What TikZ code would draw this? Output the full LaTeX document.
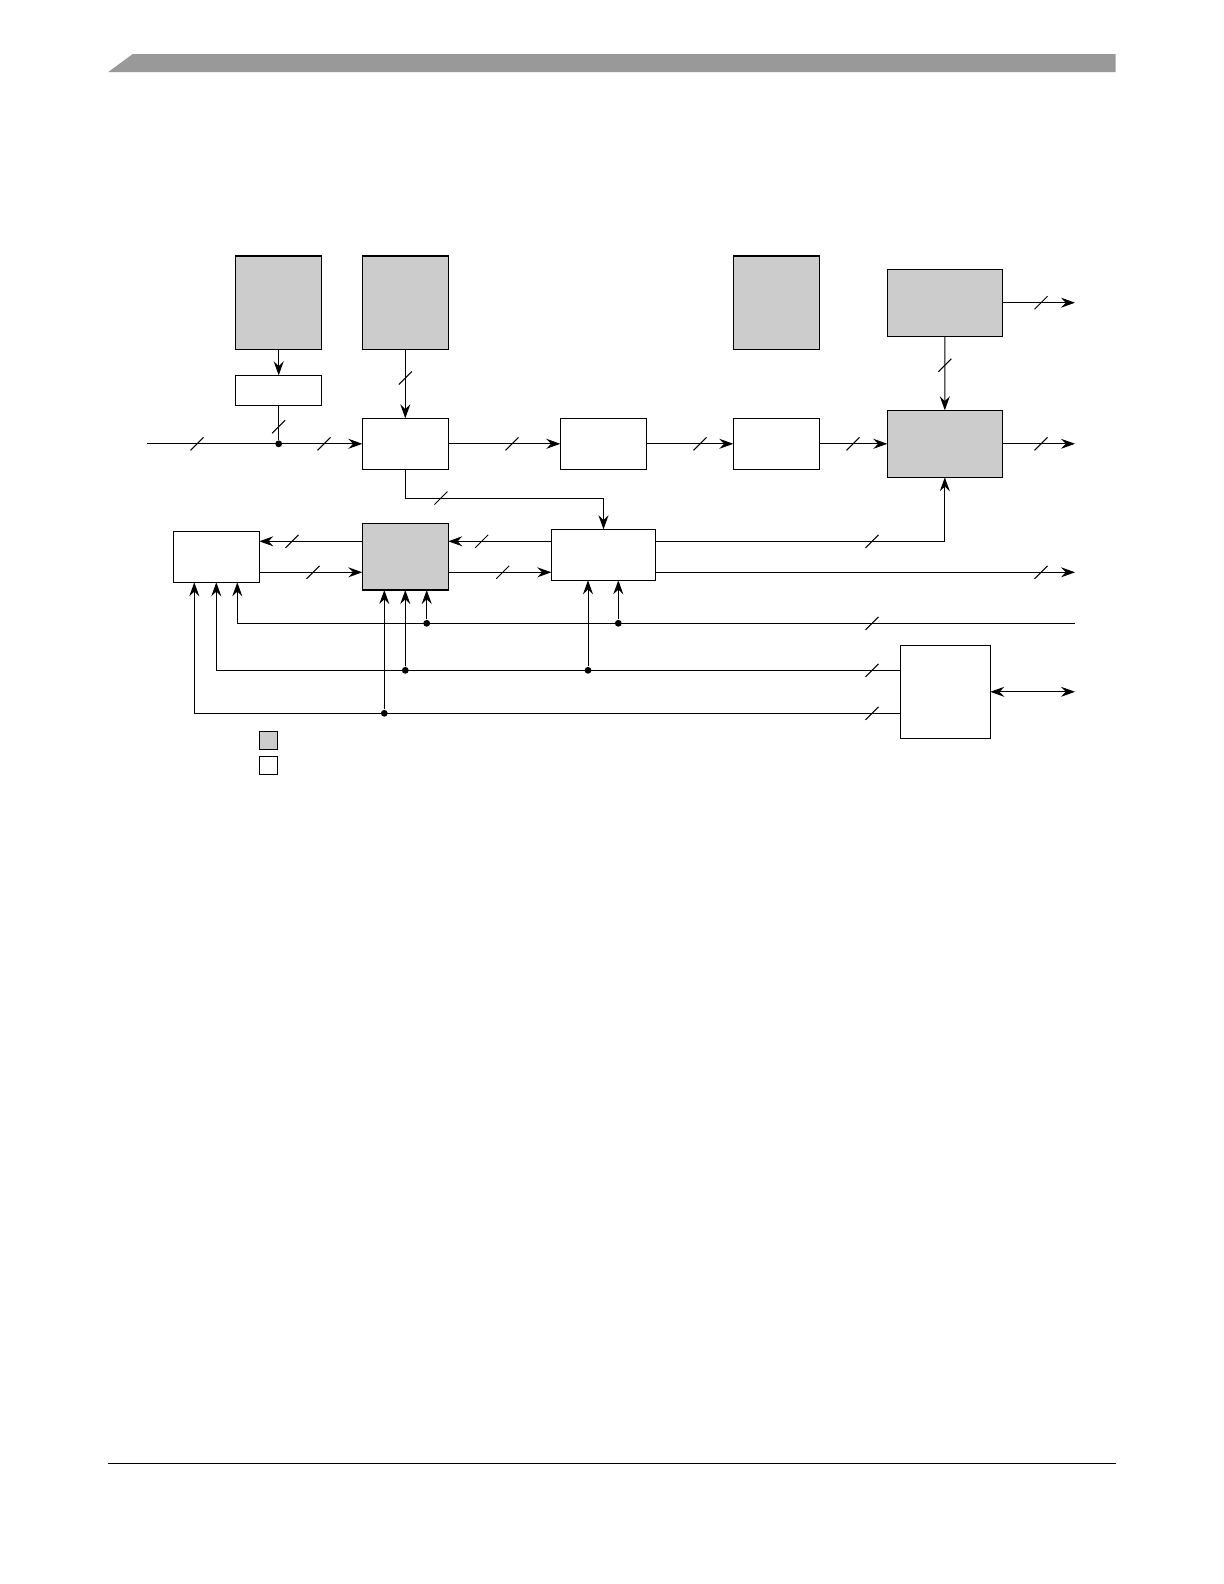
\documentclass[tikz,border=0pt]{standalone}
\usetikzlibrary{arrows.meta,calc}
\definecolor{blockgray}{HTML}{CCCCCC}
\definecolor{bandgray}{HTML}{999999}

\begin{document}
\begin{tikzpicture}[x=0.5bp,y=-0.5bp,>={Stealth[length=7bp,width=5bp,inset=2.4bp]},
wh/.style 2 args={minimum width=#1*0.5bp,minimum height=#2*0.5bp},
blk/.style={draw,line width=0.7bp,inner sep=0,outer sep=0},
hw/.style={blk,fill=blockgray},
sw/.style={blk,fill=white},
jn/.style={circle,fill,inner sep=0,minimum size=3.4bp},
busmark/.pic={\draw[line width=0.5bp] (-6.5,6.5) -- (6.5,-6.5);},
every path/.style={line width=0.5bp}]
\useasboundingbox (0,0) rectangle (1224,1584);
% page band and rule
\fill[bandgray] (108.3,72) -- (132.7,54) -- (1115.7,54) -- (1115.7,72) -- cycle;
\draw[line width=0.7bp] (108.3,1463.3) -- (1115.7,1463.3);
% blocks
\node[hw,wh={86}{93.3}] (srcA) at (278.7,302.7) {};
\node[hw,wh={86}{93.3}] (srcB) at (405.3,302.7) {};
\node[hw,wh={86}{93.3}] (srcF) at (776.3,302.7) {};
\node[hw,wh={115}{67}] (outG) at (944.9,302.7) {};
\node[sw,wh={86}{30}] (reg) at (278.7,390.3) {};
\node[sw,wh={86}{51}] (stC) at (405.3,443.8) {};
\node[sw,wh={86.4}{51}] (stD) at (603.5,443.8) {};
\node[sw,wh={86}{51}] (stE) at (776.3,443.8) {};
\node[hw,wh={115}{67}] (outH) at (944.8,443.8) {};
\node[sw,wh={86}{51}] (ctlI) at (216.3,556.8) {};
\node[hw,wh={86}{66.7}] (ctlJ) at (405.3,556.7) {};
\node[sw,wh={104.4}{51}] (ctlK) at (603.5,554.8) {};
\node[sw,wh={90}{93}] (ioL) at (945.3,691.8) {};
% legend
\node[hw,wh={18}{18}] (keyhw) at (268.3,740.3) {};
\node[sw,wh={18}{18}] (keysw) at (268.3,765.3) {};
% free ends and rows
\coordinate (in) at (147.3,443.8);
\coordinate (outG1) at (1075,302.7);
\coordinate (outH1) at (1075,443.8);
\coordinate (outK1) at (1075,572.3);
\coordinate (outL1) at (1075,691.8);
\coordinate (bus1) at (1075,623.3);
\coordinate (up) at (0,541.3);
\coordinate (lo) at (0,572.3);
\coordinate (row2) at (0,670.3);
\coordinate (row3) at (0,713.3);
\coordinate (xJa) at ($(ctlJ.south)+(21.4,0)$);
\coordinate (xJc) at ($(ctlJ.south)+(-21,0)$);
\coordinate (xKa) at ($(ctlK.south)+(14.8,0)$);
\coordinate (xKb) at ($(ctlK.south)+(-15.5,0)$);
% top path
\node[jn] (tap) at (reg.south |- in) {};
\draw[->] (in) -- (stC.west);
\draw (reg.south) -- (tap);
\draw[->] (srcA.south) -- (reg.north);
\draw[->] (srcB.south) -- (stC.north);
\draw[->] (stC.east) -- (stD.west);
\draw[->] (stD.east) -- (stE.west);
\draw[->] (stE.east) -- (outH.west);
\draw[->] (outG.south) -- (outH.north);
\draw[->] (outG.east |- outG1) -- (outG1);
\draw[->] (outH.east) -- (outH1);
\draw[->] (stC.south) -- ++(0,28.7) -| (ctlK.north);
% middle row
\draw[->] (ctlJ.west |- up) -- (ctlI.east |- up);
\draw[->] (ctlI.east |- lo) -- (ctlJ.west |- lo);
\draw[->] (ctlK.west |- up) -- (ctlJ.east |- up);
\draw[->] (ctlJ.east |- lo) -- (ctlK.west |- lo);
\draw[->] (ctlK.east |- up) -| (outH.south);
\draw[->] (ctlK.east |- lo) -- (outK1);
\draw[<->] (ioL.east |- outL1) -- (outL1);
% buses
\node[jn] (j1a) at (xJa |- bus1) {};
\node[jn] (j1b) at (xKa |- bus1) {};
\node[jn] (j2a) at (ctlJ.south |- row2) {};
\node[jn] (j2b) at (xKb |- row2) {};
\node[jn] (j3a) at (xJc |- row3) {};
\draw[->] (bus1) -| ($(ctlI.south)+(21,0)$);
\draw[->] (ioL.west |- row2) -| (ctlI.south);
\draw[->] (ioL.west |- row3) -| ($(ctlI.south)+(-22,0)$);
\draw[->] (j1a) -- (xJa);
\draw[->] (j1b) -- (xKa);
\draw[->] (j2a) -- (ctlJ.south);
\draw[->] (j2b) -- (xKb);
\draw[->] (j3a) -- (xJc);
% bus width marks
\foreach \p in {(197,443.8),(324,443.8),(278.7,426.7),(405.3,378),(512,443.8),
  (700,443.8),(853,443.8),(1041,302.7),(1041,443.8),(944.8,365.3),(441,498),
  (292,541.3),(313,572.3),(481.7,541.3),(502.7,572.3),(872,541.3),(1041,572.3),
  (872,623.3),(872,670.3),(872,713.3)}
  \pic at \p {busmark};
\end{tikzpicture}
\end{document}
